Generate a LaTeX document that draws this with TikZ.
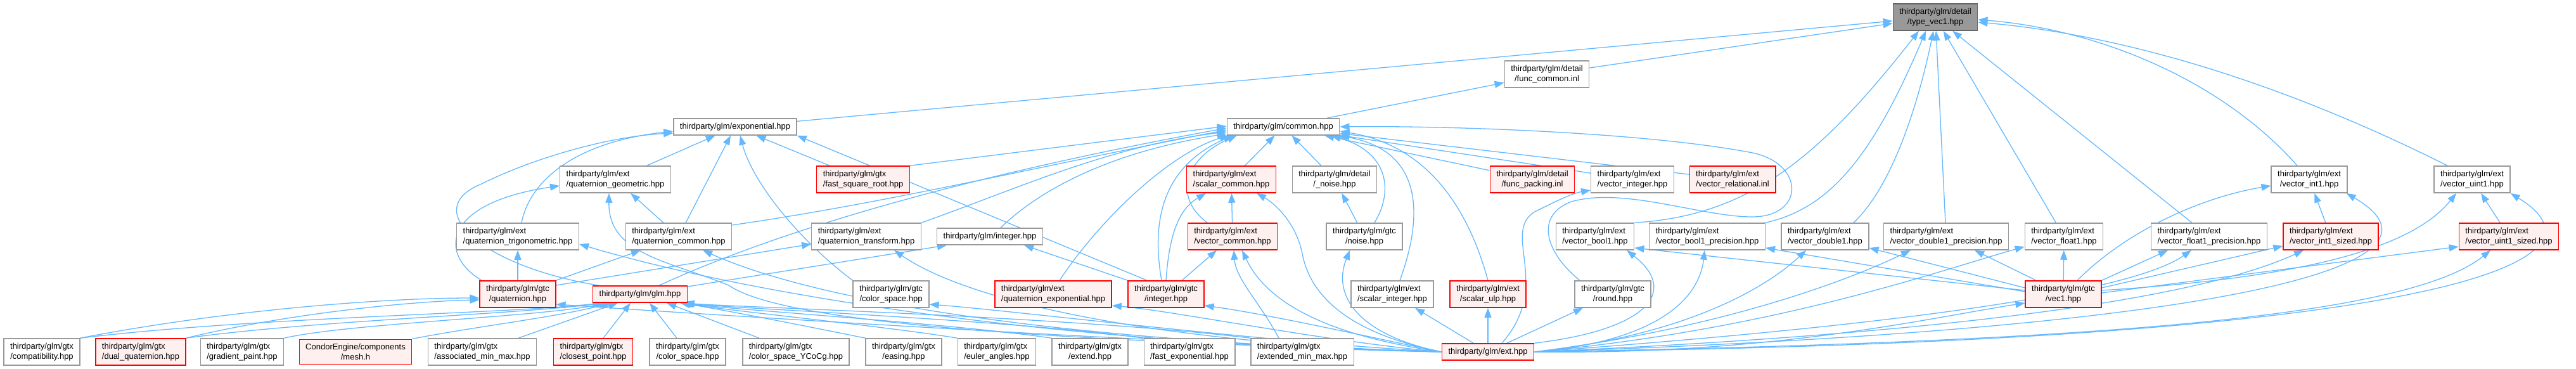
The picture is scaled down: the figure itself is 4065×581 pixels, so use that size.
\documentclass[tikz,border=0pt]{standalone}
\usepackage{fontspec}
\setmainfont{Liberation Sans}
\usetikzlibrary{arrows.meta, backgrounds}
\definecolor{edgeblue}{HTML}{63B8FF}
\definecolor{boxgray}{HTML}{999999}
\definecolor{rootgray}{HTML}{999999}
\definecolor{rootline}{HTML}{666666}
\definecolor{truncred}{HTML}{FF0000}
\definecolor{truncfill}{HTML}{FFF0F0}

% two-line file label: first line left, last line centred
\newdimen\lblw
\newcommand{\flab}[2]{\setbox0=\hbox{#1}\setbox2=\hbox{#2}%
  \lblw=\wd0\relax \ifdim\wd2>\lblw \lblw=\wd2\relax \fi
  \vbox{\hbox to\lblw{\box0\hfil}\hbox to\lblw{\hfil\box2\hfil}}}

\begin{document}
\begin{tikzpicture}[x=1pt, y=-1pt, >={Triangle[length=15pt,width=11pt]},
  file/.style={draw=boxgray, fill=white, line width=1.4pt, inner xsep=10pt, inner ysep=7pt, font=\fontsize{13}{16}\selectfont},
  trunc/.style={file, draw=truncred, fill=truncfill},
  root/.style={file, draw=rootline, fill=rootgray},
  inc/.style={->, draw=edgeblue, line width=1.3pt}]
  \useasboundingbox (0,0) rectangle (4065,581);

  % root
  \node[root] (typevec) at (3054,27) {\flab{thirdparty/glm/detail}{/type\_vec1.hpp}};
  \node[file] (funccommon) at (2441,117) {\flab{thirdparty/glm/detail}{/func\_common.inl}};

  % row 1
  \node[file] (exponential) at (1160,200) {thirdparty/glm/exponential.hpp};
  \node[file] (common) at (2025,200) {thirdparty/glm/common.hpp};

  % row 2
  \node[file] (quatgeom) at (971,283) {\flab{thirdparty/glm/ext}{/quaternion\_geometric.hpp}};
  \node[trunc] (fastsqrt) at (1362,283) {\flab{thirdparty/glm/gtx}{/fast\_square\_root.hpp}};
  \node[trunc] (scalarcommon) at (1943,283) {\flab{thirdparty/glm/ext}{/scalar\_common.hpp}};
  \node[file] (noisedetail) at (2106,283) {\flab{thirdparty/glm/detail}{/\_noise.hpp}};
  \node[trunc] (funcpacking) at (2418,283) {\flab{thirdparty/glm/detail}{/func\_packing.inl}};
  \node[file] (vecinteger) at (2576,283) {\flab{thirdparty/glm/ext}{/vector\_integer.hpp}};
  \node[trunc] (vecrelational) at (2734,283) {\flab{thirdparty/glm/ext}{/vector\_relational.inl}};
  \node[file] (vecint1) at (3644,283) {\flab{thirdparty/glm/ext}{/vector\_int1.hpp}};
  \node[file] (vecuint1) at (3901,283) {\flab{thirdparty/glm/ext}{/vector\_uint1.hpp}};

  % row 3
  \node[file] (quattrig) at (817,373) {\flab{thirdparty/glm/ext}{/quaternion\_trigonometric.hpp}};
  \node[file] (quatcommon) at (1071,373) {\flab{thirdparty/glm/ext}{/quaternion\_common.hpp}};
  \node[file] (quattransform) at (1367,373) {\flab{thirdparty/glm/ext}{/quaternion\_transform.hpp}};
  \node[file] (integer) at (1562,373) {thirdparty/glm/integer.hpp};
  \node[trunc] (veccommon) at (1945,373) {\flab{thirdparty/glm/ext}{/vector\_common.hpp}};
  \node[file] (noisegtc) at (2153,373) {\flab{thirdparty/glm/gtc}{/noise.hpp}};
  \node[file] (vecbool1) at (2517,373) {\flab{thirdparty/glm/ext}{/vector\_bool1.hpp}};
  \node[file] (vecbool1p) at (2694,373) {\flab{thirdparty/glm/ext}{/vector\_bool1\_precision.hpp}};
  \node[file] (vecdouble1) at (2880,373) {\flab{thirdparty/glm/ext}{/vector\_double1.hpp}};
  \node[file] (vecdouble1p) at (3071,373) {\flab{thirdparty/glm/ext}{/vector\_double1\_precision.hpp}};
  \node[file] (vecfloat1) at (3257,373) {\flab{thirdparty/glm/ext}{/vector\_float1.hpp}};
  \node[file] (vecfloat1p) at (3486,373) {\flab{thirdparty/glm/ext}{/vector\_float1\_precision.hpp}};
  \node[trunc] (vecint1s) at (3678,373) {\flab{thirdparty/glm/ext}{/vector\_int1\_sized.hpp}};
  \node[trunc] (vecuint1s) at (3959,373) {\flab{thirdparty/glm/ext}{/vector\_uint1\_sized.hpp}};

  % row 4
  \node[trunc] (gtcquat) at (817,464) {\flab{thirdparty/glm/gtc}{/quaternion.hpp}};
  \node[trunc] (glm) at (1010,464) {thirdparty/glm/glm.hpp};
  \node[file] (gtccolor) at (1406,464) {\flab{thirdparty/glm/gtc}{/color\_space.hpp}};
  \node[trunc] (quatexp) at (1662,464) {\flab{thirdparty/glm/ext}{/quaternion\_exponential.hpp}};
  \node[trunc] (gtcinteger) at (1840,464) {\flab{thirdparty/glm/gtc}{/integer.hpp}};
  \node[file] (scalarinteger) at (2197,464) {\flab{thirdparty/glm/ext}{/scalar\_integer.hpp}};
  \node[trunc] (scalarulp) at (2348,464) {\flab{thirdparty/glm/ext}{/scalar\_ulp.hpp}};
  \node[file] (gtcround) at (2545,464) {\flab{thirdparty/glm/gtc}{/round.hpp}};
  \node[trunc] (vec1) at (3256,464) {\flab{thirdparty/glm/gtc}{/vec1.hpp}};

  % bottom row
  \node[file] (compatibility) at (66,555) {\flab{thirdparty/glm/gtx}{/compatibility.hpp}};
  \node[trunc] (dualquat) at (222,555) {\flab{thirdparty/glm/gtx}{/dual\_quaternion.hpp}};
  \node[file] (gradient) at (382,555) {\flab{thirdparty/glm/gtx}{/gradient\_paint.hpp}};
  \node[trunc] (mesh) at (561,555) {\flab{CondorEngine/components}{/mesh.h}};
  \node[file] (assocminmax) at (761,555) {\flab{thirdparty/glm/gtx}{/associated\_min\_max.hpp}};
  \node[trunc] (closest) at (936,555) {\flab{thirdparty/glm/gtx}{/closest\_point.hpp}};
  \node[file] (colorspace) at (1085,555) {\flab{thirdparty/glm/gtx}{/color\_space.hpp}};
  \node[file] (ycocg) at (1256,555) {\flab{thirdparty/glm/gtx}{/color\_space\_YCoCg.hpp}};
  \node[file] (easing) at (1426,555) {\flab{thirdparty/glm/gtx}{/easing.hpp}};
  \node[file] (euler) at (1573,555) {\flab{thirdparty/glm/gtx}{/euler\_angles.hpp}};
  \node[file] (extend) at (1720,555) {\flab{thirdparty/glm/gtx}{/extend.hpp}};
  \node[file] (fastexp) at (1877,555) {\flab{thirdparty/glm/gtx}{/fast\_exponential.hpp}};
  \node[file] (extminmax) at (2055,555) {\flab{thirdparty/glm/gtx}{/extended\_min\_max.hpp}};
  \node[trunc] (ext) at (2348,555) {thirdparty/glm/ext.hpp};

  \begin{scope}[on background layer]
  % into type_vec1
  \draw[inc] (exponential) -- (typevec);
  \draw[inc] (funccommon) -- (typevec);
  \draw[inc] (vecbool1.north east) .. controls (2760,340) and (2870,250) .. ([xshift=-26pt]typevec.south);
  \draw[inc] (vecbool1p.north east) .. controls (2880,330) and (2950,260) .. ([xshift=-15pt]typevec.south);
  \draw[inc] ([xshift=45pt]vecdouble1.north) .. controls (2990,290) and (3030,150) .. ([xshift=-3pt]typevec.south);
  \draw[inc] (vecdouble1p) -- (typevec);
  \draw[inc] (vecfloat1) -- (typevec);
  \draw[inc] (vecfloat1p) -- (typevec);
  \draw[inc] ([xshift=-19pt]vecint1.north) .. controls (3500,120) and (3300,45) .. ([yshift=-4pt]typevec.east);
  \draw[inc] ([xshift=-39pt]vecuint1.north) .. controls (3600,130) and (3350,55) .. ([yshift=-8pt]typevec.east);
  \draw[inc] (common) -- (funccommon);

  % into exponential.hpp
  \draw[inc] (quatgeom) -- (exponential);
  \draw[inc] (quatcommon) -- (exponential);
  \draw[inc] (fastsqrt) -- (exponential);
  \draw[inc] ([xshift=-30pt]gtcinteger.north) -- (exponential.south east);
  \draw[inc] (gtccolor.north west) .. controls (1250,370) and (1185,280) .. ([xshift=8pt]exponential.south);
  \draw[inc] ([xshift=6pt]quattrig.north) .. controls (835,290) and (900,225) .. ([yshift=-7pt]exponential.west);
  \draw[inc] ([xshift=-65pt]glm.north) .. controls (760,420) and (660,330) .. (760,290) .. controls (840,250) and (960,215) .. ([yshift=-10pt]exponential.west);

  % into common.hpp
  \draw[inc] ([xshift=30pt]glm.north) .. controls (1150,400) and (1400,300) .. ([yshift=-2pt]common.west);
  \draw[inc] ([yshift=18pt]quatcommon.east) .. controls (1400,320) and (1650,260) .. ([yshift=-5pt]common.west);
  \draw[inc] (fastsqrt.north east) -- ([yshift=1pt]common.west);
  \draw[inc] (quattransform.north east) .. controls (1600,300) and (1750,230) .. ([yshift=-8pt]common.west);
  \draw[inc] ([xshift=17pt]integer.north) .. controls (1640,300) and (1750,240) .. ([yshift=-11pt]common.west);
  \draw[inc] ([xshift=10pt]quatexp.north) .. controls (1740,340) and (1850,240) .. ([xshift=4pt]common.south west);
  \draw[inc] ([xshift=-7pt]gtcinteger.north) .. controls (1815,340) and (1840,260) .. ([xshift=10pt]common.south west);
  \draw[inc] ([xshift=-40pt]veccommon.north) .. controls (1850,310) and (1870,250) .. ([xshift=16pt]common.south west);
  \draw[inc] (scalarcommon) -- (common);
  \draw[inc] (noisedetail) -- (common);
  \draw[inc] ([xshift=16pt]noisegtc.north) .. controls (2200,300) and (2190,240) .. ([xshift=-14pt]common.south east);
  \draw[inc] ([xshift=12pt]scalarinteger.north) .. controls (2250,330) and (2240,235) .. ([xshift=-4pt]common.south east);
  \draw[inc] (scalarulp.north) .. controls (2320,340) and (2260,230) .. ([yshift=-7pt]common.east);
  \draw[inc] (funcpacking) -- (common);
  \draw[inc] (vecinteger) -- (common);
  \draw[inc] (vecrelational) -- (common);
  \draw[inc] ([xshift=-52pt]gtcround.north) .. controls (2440,400) and (2420,340) .. (2480,318)
    .. controls (2560,295) and (2680,340) .. (2760,342)
    .. controls (2850,345) and (2850,255) .. (2760,240)
    .. controls (2600,210) and (2300,198) .. (common.east);

  % into integer.hpp, scalar_common, vector_common
  \draw[inc] ([yshift=12pt]glm.east) -- ([xshift=16pt]integer.south west);
  \draw[inc] (gtcinteger.north west) -- ([xshift=-30pt]integer.south east);
  \draw[inc] (veccommon) -- (scalarcommon);
  \draw[inc] (gtcinteger.north) .. controls (1845,370) and (1860,330) .. ([xshift=-40pt]scalarcommon.south);
  \draw[inc] (ext.west) .. controls (2150,530) and (2070,480) .. (2055,400) .. controls (2045,350) and (2010,320) .. ([xshift=40pt]scalarcommon.south);
  \draw[inc] (gtcinteger) -- (veccommon);
  \draw[inc] ([xshift=-37pt]extminmax.north) .. controls (1990,480) and (1950,440) .. ([xshift=2pt]veccommon.south);
  \draw[inc] (ext.west) .. controls (2100,530) and (2000,480) .. ([xshift=15pt]veccommon.south);

  % quaternion headers
  \draw[inc] (gtcquat) -- (quattrig);
  \draw[inc] (ext.west) .. controls (1700,545) and (1200,470) .. ([yshift=-12pt]quattrig.east);
  \draw[inc] (gtcquat.north east) -- ([xshift=-60pt]quatcommon.south);
  \draw[inc] (ext.west) .. controls (1700,540) and (1300,480) .. ([xshift=38pt]quatcommon.south);
  \draw[inc] (quatcommon) -- (quatgeom);
  \draw[inc] ([xshift=-57pt]gtcquat.north) .. controls (690,400) and (700,320) .. ([yshift=-10pt]quatgeom.west);
  \draw[inc] (ext.west) .. controls (1800,540) and (1250,520) .. (1150,450) .. controls (1050,410) and (960,400) .. ([xshift=-10pt]quatgeom.south);
  \draw[inc] ([yshift=14pt]gtcquat.east) -- ([yshift=-12pt]quattransform.west);
  \draw[inc] (ext.west) .. controls (1900,545) and (1550,490) .. ([xshift=44pt]quattransform.south);

  % into gtc/quaternion.hpp and glm.hpp
  \draw[inc] (compatibility.north east) .. controls (350,490) and (600,470) .. ([yshift=-6pt]gtcquat.west);
  \draw[inc] (dualquat.north east) .. controls (450,495) and (650,475) .. ([yshift=-9pt]gtcquat.west);
  \draw[inc] (ext.west) .. controls (1800,540) and (1100,495) .. ([yshift=-16pt]gtcquat.east);
  \draw[inc] (compatibility.north east) .. controls (400,500) and (800,495) .. ([xshift=-60pt]glm.south);
  \draw[inc] (dualquat.north east) .. controls (500,505) and (800,497) .. ([xshift=-55pt]glm.south);
  \draw[inc] (gradient.north east) .. controls (550,510) and (850,500) .. ([xshift=-50pt]glm.south);
  \draw[inc] (mesh.north east) .. controls (750,515) and (880,500) .. ([xshift=-45pt]glm.south);
  \draw[inc] ([xshift=57pt]assocminmax.north) -- ([xshift=-35pt]glm.south);
  \draw[inc] ([xshift=16pt]closest.north) -- ([xshift=-15pt]glm.south);
  \draw[inc] ([xshift=-17pt]colorspace.north) -- ([xshift=15pt]glm.south);
  \draw[inc] ([xshift=-58pt]ycocg.north) -- ([xshift=42pt]glm.south);
  \draw[inc] (easing.north west) .. controls (1300,520) and (1150,490) .. ([xshift=-12pt]glm.south east);
  \draw[inc] (euler.north west) .. controls (1400,515) and (1150,490) .. ([xshift=-10pt]glm.south east);
  \draw[inc] (extend.north west) .. controls (1500,510) and (1150,488) .. ([xshift=-8pt]glm.south east);
  \draw[inc] (fastexp.north west) .. controls (1600,505) and (1150,486) .. ([xshift=-6pt]glm.south east);
  \draw[inc] (extminmax.north west) .. controls (1700,500) and (1150,484) .. ([xshift=-4pt]glm.south east);

  % from ext.hpp to gtc and ext headers
  \draw[inc] (ext.west) .. controls (2000,540) and (1600,490) .. ([yshift=-16pt]gtccolor.east);
  \draw[inc] (ext.west) .. controls (2100,540) and (1850,490) .. ([yshift=-18pt]quatexp.east);
  \draw[inc] (ext.west) .. controls (2200,540) and (2000,495) .. ([yshift=-18pt]gtcinteger.east);
  \draw[inc] (noisegtc) -- (noisedetail);
  \draw[inc] (ext.west) .. controls (2150,530) and (2100,470) .. ([xshift=-23pt]noisegtc.south);
  \draw[inc] (ext) -- (scalarinteger);
  \draw[inc] (ext) -- (scalarulp);
  \draw[inc] (ext) -- (gtcround);
  \draw[inc] ([xshift=22pt]ext.north) .. controls (2450,450) and (2370,370) .. (2420,335) .. controls (2450,320) and (2480,305) .. ([yshift=-17pt]vecinteger.west);
  \draw[inc] (ext.north east) .. controls (2600,520) and (2650,460) .. ([xshift=50pt]vecbool1.south);
  \draw[inc] (ext.east) .. controls (2600,540) and (2680,480) .. ([xshift=-4pt]vecbool1p.south);
  \draw[inc] (ext.east) .. controls (2650,530) and (2780,460) .. ([xshift=-30pt]vecdouble1.south);
  \draw[inc] (ext.east) .. controls (2700,520) and (2900,450) .. ([xshift=-56pt]vecdouble1p.south);
  \draw[inc] (ext.east) .. controls (2800,520) and (3050,430) .. ([yshift=-16pt]vecfloat1.west);
  \draw[inc] (ext.east) .. controls (2900,520) and (3350,470) .. ([xshift=-28pt]vecfloat1p.south);
  \draw[inc] (ext.east) .. controls (3000,530) and (3450,480) .. ([xshift=-43pt]vecint1s.south);
  \draw[inc] (ext.east) .. controls (3300,540) and (3800,500) .. ([xshift=-29pt]vecuint1s.south);
  \draw[inc] (ext.east) .. controls (3500,520) and (3900,420) .. ([xshift=-2pt]vecint1.south east);
  \draw[inc] (ext.east) .. controls (3800,540) and (4150,420) .. (vecuint1.south east);
  \draw[inc] (ext.east) .. controls (2800,560) and (3050,500) .. ([yshift=-14pt]vec1.west);

  % from gtc/vec1.hpp
  \draw[inc] ([yshift=6pt]vec1.west) -- ([yshift=-18pt]vecbool1.east);
  \draw[inc] ([yshift=4pt]vec1.west) -- ([yshift=-18pt]vecbool1p.east);
  \draw[inc] ([yshift=10pt]vec1.west) -- ([yshift=-18pt]vecdouble1.east);
  \draw[inc] ([xshift=-43pt]vec1.north) -- ([xshift=45pt]vecdouble1p.south);
  \draw[inc] (vec1) -- (vecfloat1);
  \draw[inc] (vec1.north east) -- ([xshift=-65pt]vecfloat1p.south);
  \draw[inc] ([yshift=10pt]vec1.east) -- ([yshift=-15pt]vecint1s.west);
  \draw[inc] ([yshift=2pt]vec1.east) -- ([yshift=-16pt]vecuint1s.west);
  \draw[inc] ([xshift=22pt]vec1.north) .. controls (3360,360) and (3480,310) .. ([yshift=-10pt]vecint1.west);
  \draw[inc] ([yshift=6pt]vec1.east) .. controls (3600,440) and (3800,400) .. ([xshift=-25pt]vecuint1.south);
  \draw[inc] (vecint1s) -- (vecint1);
  \draw[inc] (vecuint1s) -- (vecuint1);
  \end{scope}
\end{tikzpicture}
\end{document}
